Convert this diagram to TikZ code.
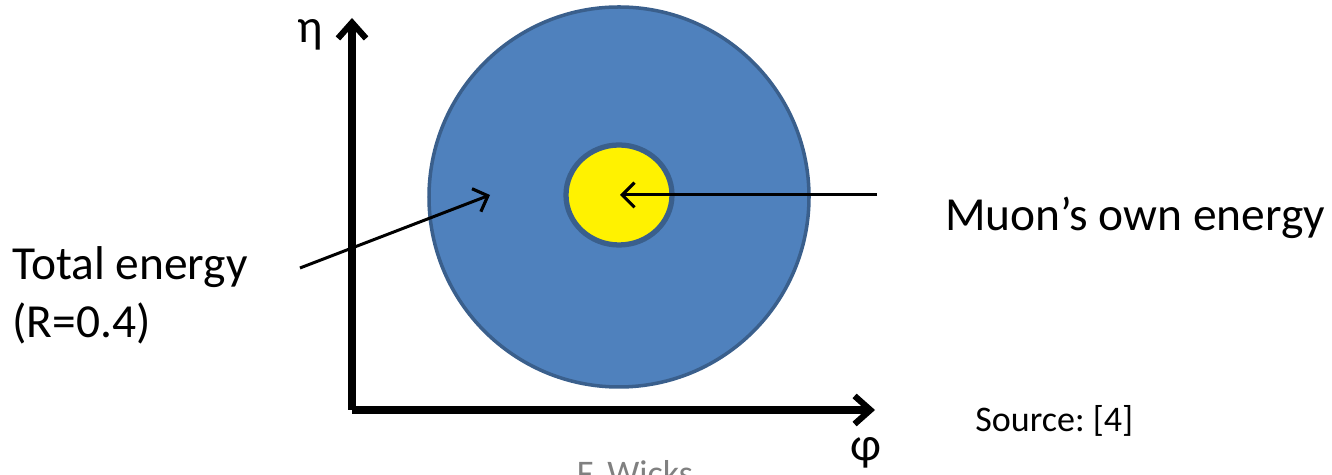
\documentclass[tikz,border=0pt]{standalone}
\usepackage{fontspec}
\setmainfont{Carlito}
\usetikzlibrary{arrows.meta}
\definecolor{coneblue}{HTML}{4F81BD}
\definecolor{coneedge}{HTML}{3A5F8C}
\tikzset{
  axisline/.style={line width=4pt, -{Straight Barb[length=9pt,width=16pt,line width=3.5pt]}},
  pointer/.style={line width=1.7pt, -{Straight Barb[length=7pt,width=14pt,line width=1.8pt]}},
  bigtext/.style={font=\fontsize{27}{33}\selectfont, inner sep=0pt},
  smalltext/.style={font=\fontsize{20.5}{24}\selectfont, inner sep=0pt}
}
\begin{document}
\frenchspacing
\begin{tikzpicture}[x=0.02cm,y=0.02cm]
    \useasboundingbox (0,0) rectangle (1332,475);
    % isolation cone and muon core
    \draw[line width=2pt,draw=coneedge,fill=coneblue] (619,278) circle (190);
    \draw[line width=3pt,draw=coneedge,fill=yellow] (619,280) ellipse (53 and 50);
    % axes
    \coordinate (orig) at (352,65);
    \coordinate (etatip) at (352,457);
    \coordinate (phitip) at (875,65);
    \draw[axisline] (orig) -- (etatip);
    \draw[axisline] (orig) -- (phitip);
    \node[bigtext] (eta) at (310,440) {η};
    \node[bigtext] (phi) at (866,22) {φ};
    % labels
    \node[bigtext,anchor=west,align=left] (total) at (12,180) {Total energy\\(R=0.4)};
    \node[bigtext,anchor=west] (muon) at (945,257) {Muon’s own energy};
    \node[smalltext,anchor=west] (source) at (975,54) {Source: [4]};
    \node[smalltext,text=gray] (author) at (635,2) {F. Wicks};
    % pointers
    \coordinate (totaltail) at (300,207);
    \coordinate (totalhead) at (490,280);
    \coordinate (muontail) at (877,280);
    \coordinate (muonhead) at (620,280);
    \draw[pointer] (totaltail) -- (totalhead);
    \draw[pointer] (muontail) -- (muonhead);
\end{tikzpicture}
\end{document}
